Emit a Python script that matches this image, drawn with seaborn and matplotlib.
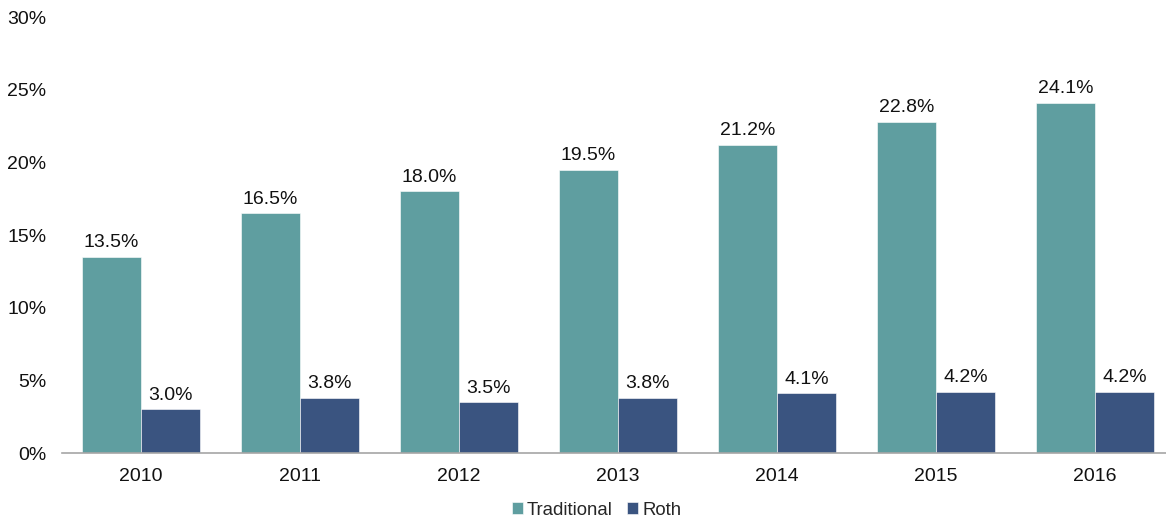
import matplotlib
matplotlib.use("Agg")
import matplotlib.pyplot as plt
import seaborn as sns
import pandas as pd
from matplotlib.ticker import FuncFormatter

years = ["2010", "2011", "2012", "2013", "2014", "2015", "2016"]
traditional = [13.5, 16.5, 18.0, 19.5, 21.2, 22.8, 24.1]
roth = [3.0, 3.8, 3.5, 3.8, 4.1, 4.2, 4.2]
series_names = ["Traditional", "Roth"]
colors = ["#5F9EA0", "#3A5480"]

df = pd.DataFrame({
    "year": years * 2,
    "value": traditional + roth,
    "type": [series_names[0]] * len(years) + [series_names[1]] * len(years),
})

sns.set_style("white")
plt.rcParams["font.family"] = ["Liberation Sans", "DejaVu Sans"]

FS = 14
LFS = 13.4

fig = plt.figure(figsize=(11.66, 5.21), dpi=100)
ax = fig.add_axes([61.5 / 1166, 68 / 521, 1113 / 1166, 436 / 521])

sns.barplot(data=df, x="year", y="value", hue="type", palette=colors,
            width=0.74, gap=0, ax=ax, saturation=1, legend=True,
            edgecolor="white", linewidth=0.4)

for cont in ax.containers:
    ax.bar_label(cont, labels=[f"{v:.1f}%" for v in cont.datavalues],
                 padding=4, fontsize=FS, color="#111111")

ax.set_ylim(0, 30)
ax.set_yticks([0, 5, 10, 15, 20, 25, 30])
ax.yaxis.set_major_formatter(FuncFormatter(lambda v, p: f"{v:.0f}%"))
ax.set_xlim(-0.5, len(years) - 0.5)
ax.set_xlabel("")
ax.set_ylabel("")
for s in ["top", "right", "left"]:
    ax.spines[s].set_visible(False)
ax.spines["bottom"].set_color("#A6A6A6")
ax.spines["bottom"].set_linewidth(1.2)
ax.tick_params(axis="both", length=0, labelsize=FS, colors="#111111")
ax.tick_params(axis="x", pad=11)
ax.tick_params(axis="y", pad=11)

ax.legend(loc="upper center", bbox_to_anchor=((596.5 - 61.5) / 1113, -0.082), ncol=2,
          frameon=False, fontsize=LFS, handlelength=0.6, handleheight=0.6,
          handletextpad=0.2, columnspacing=0.8, borderpad=0.2)

fig.savefig("out.png", dpi=100)
